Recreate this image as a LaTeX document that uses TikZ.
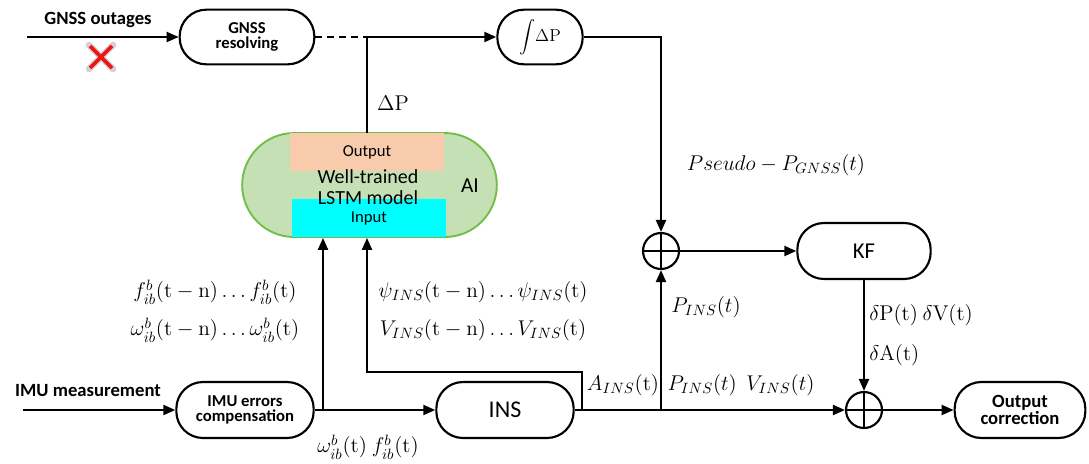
\RequirePackage{fix-cm}
\documentclass[tikz,border=0pt]{standalone}
\usepackage{amsmath}
\usepackage[no-math]{fontspec}
\setmainfont{Carlito}
\usetikzlibrary{arrows.meta,positioning,calc}
\definecolor{aigreen}{RGB}{197,224,180}
\definecolor{aiedge}{RGB}{112,190,70}
\definecolor{outpeach}{RGB}{248,203,173}
\definecolor{incyan}{RGB}{0,255,255}
\definecolor{crossred}{RGB}{240,20,20}

\begin{document}
\begin{tikzpicture}[x=0.75pt, y=-0.75pt,
  pill/.style={rectangle, rounded corners=20pt, draw, line width=1.6pt,
               minimum height=41pt, minimum width=#1, align=center,
               inner sep=1pt, font=\bfseries\fontsize{12.5}{13}\selectfont},
  sum/.style={circle, draw, line width=1.6pt, minimum size=27pt, inner sep=0pt,
              path picture={\draw[line width=1.1pt]
                (path picture bounding box.north) -- (path picture bounding box.south)
                (path picture bounding box.west) -- (path picture bounding box.east);}},
  arr/.style={-{Triangle[length=9pt,width=7.5pt]}, line width=1.6pt},
  lnk/.style={line width=1.6pt},
  mlbl/.style={font=\fontsize{16}{18}\selectfont, inner sep=0pt},
  tlbl/.style={font=\bfseries\fontsize{14}{16}\selectfont, inner sep=1pt}
]
  \useasboundingbox (0,0) rectangle (1089,464);

  \node[pill=101pt] (gnss) at (247,37) {GNSS\\[-2pt]resolving};
  \node[pill=64pt, font=\fontsize{13}{14}\selectfont] (integ) at (540,37)
    {$\displaystyle\int\!\Delta\mathrm{P}$};
  \node[pill=103pt, minimum height=42pt] (imu) at (245,410)
    {IMU errors\\[-2pt]compensation};
  \node[pill=103pt, minimum height=42pt, font=\fontsize{18}{20}\selectfont]
    (ins) at (505,410) {INS};
  \node[pill=100pt, minimum height=42pt, font=\fontsize{17}{19}\selectfont]
    (kf) at (864,251) {KF};
  \node[pill=98pt, minimum height=42pt, font=\bfseries\fontsize{14}{15}\selectfont]
    (outc) at (1020,410) {Output\\[-2pt]correction};

  \node[sum] (sumA) at (661,251) {};
  \node[sum] (sumB) at (864,410) {};

  \node[rectangle, rounded corners=39pt, draw=aiedge, fill=aigreen,
        line width=1.4pt, minimum width=191pt, minimum height=78pt] (ai) at (369.5,185) {};
  \node[fill=outpeach, minimum width=115pt, minimum height=28.5pt, inner sep=0pt,
        font=\fontsize{12.5}{14}\selectfont] (outp) at (367,152) {Output};
  \node[fill=incyan, minimum width=115.5pt, minimum height=28.5pt, inner sep=0pt,
        font=\fontsize{12.5}{14}\selectfont] (inp) at (369,218) {Input};
  \node[align=center, font=\fontsize{15}{17}\selectfont] (lstm) at (368,187)
    {Well-trained\\[-1pt]LSTM model};
  \node[font=\fontsize{16}{18}\selectfont] (ailbl) at (470,186) {AI};

  \node[tlbl] (outage) at (98,20) {GNSS outages};
  \node[tlbl] (imumeas) at (88,391) {IMU measurement};

  \coordinate (gnssin) at (27,37);
  \coordinate (imuin) at (23,410);
  \coordinate (jn) at (367,37);
  \coordinate (brA) at (323,410);
  \coordinate (brB) at (582,410);
  \coordinate (brBt) at (582,372);
  \coordinate (brC) at (661,410);

  \draw[arr] (gnssin) -- (gnss);
  \draw[lnk, dash pattern=on 5pt off 4pt] (gnss.east) -- (jn);
  \draw[arr] (jn) -- (integ);
  \draw[lnk] (outp.north -| jn) -- (jn);
  \draw[arr] (integ.east) -| (sumA);
  \draw[arr] (sumA) -- (kf);
  \draw[arr] (kf) -- (sumB);
  \draw[arr] (sumB) -- (outc);
  \draw[arr] (imuin) -- (imu);
  \draw[arr] (imu) -- (ins);
  \draw[arr] (brA) -- (brA |- ai.south);
  \draw[arr] (ins) -- (sumB);
  \draw[arr] (brB) -- (brBt) -| (jn |- ai.south);
  \draw[arr] (brC) -- (sumA);

  \draw[line width=5pt, gray!35, line cap=round] (89,45) -- (113,69) (113,45) -- (89,69);
  \draw[line width=2.8pt, crossred] (90,46) -- (112,68) (112,46) -- (90,68);

  \node[mlbl] (dp) at (393,103) {$\Delta\mathrm{P}$};
  \node[mlbl] (pseudo) at (776,165) {$Pseudo-P_{GNSS}(t)$};
  \node[mlbl] (fl) at (215,292) {$f_{ib}^{b}(\mathrm{t-n})\ldots f_{ib}^{b}(\mathrm{t})$};
  \node[mlbl] (wl) at (215,330) {$\omega_{ib}^{b}(\mathrm{t-n})\ldots \omega_{ib}^{b}(\mathrm{t})$};
  \node[mlbl] (psil) at (483,292) {$\psi_{INS}(\mathrm{t-n})\ldots \psi_{INS}(\mathrm{t})$};
  \node[mlbl] (vl) at (483,330) {$V_{INS}(\mathrm{t-n})\ldots V_{INS}(\mathrm{t})$};
  \node[mlbl] (wf) at (368,447) {$\omega_{ib}^{b}(\mathrm{t})\ f_{ib}^{b}(\mathrm{t})$};
  \node[mlbl] (ains) at (623,385) {$A_{INS}(\mathrm{t})$};
  \node[mlbl] (pv) at (741,385) {$P_{INS}(t)\ \ V_{INS}(t)$};
  \node[mlbl] (pins) at (706,307) {$P_{INS}(t)$};
  \node[mlbl, anchor=west] (dpv) at (869,315) {$\delta\mathrm{P(t)}\ \delta\mathrm{V(t)}$};
  \node[mlbl, anchor=west] (da) at (869,355) {$\delta\mathrm{A(t)}$};
\end{tikzpicture}
\end{document}
